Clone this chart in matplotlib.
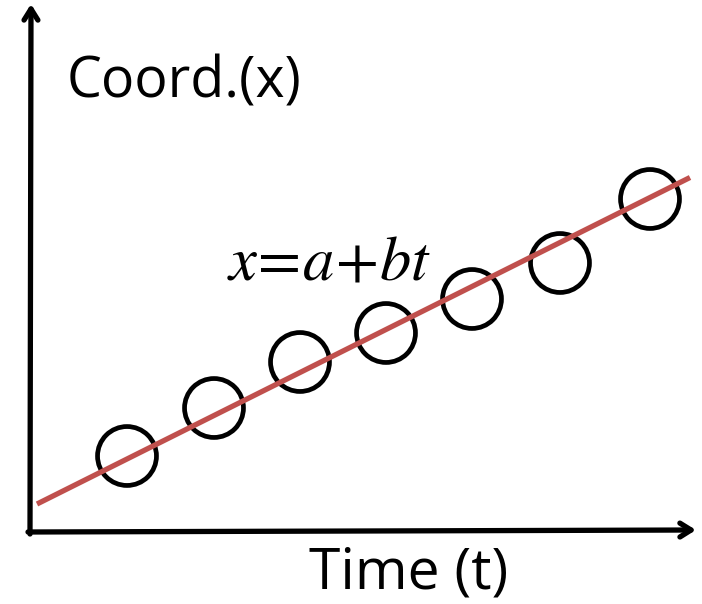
import matplotlib.pyplot as plt
import numpy as np

# measured positions (pixel-ish units from the axis origin)
t_pts = [97, 184, 270, 356, 442, 530, 620]
x_pts = [76, 124, 170, 199, 233, 269, 333]

# fitted line x = a + b t
a = 24.5
b = 0.5
t_line = np.array([7, 660])

red = '#C0504D'
plt.rcParams['mathtext.fontset'] = 'stix'

fig = plt.figure(figsize=(7.02, 6.04), dpi=100)
ax = fig.add_axes([0, 0, 1, 1])
ax.set_xlim(-30, 672)
ax.set_ylim(-72, 532)
ax.axis('off')

# axes with arrow heads
arrow = dict(arrowstyle='->,head_length=0.8,head_width=0.5', lw=3.8,
             color='black', shrinkA=0, shrinkB=0, capstyle='round')
ax.annotate('', xy=(666, 2), xytext=(-2, 0), arrowprops=arrow)
ax.annotate('', xy=(1, 528), xytext=(0, -2), arrowprops=arrow)

ax.plot(t_line, a + b * t_line, color=red, lw=3.8, solid_capstyle='butt', zorder=3)
ax.scatter(t_pts, x_pts, s=1800, facecolors='none', edgecolors='black',
           linewidths=3.4, zorder=2)

ax.text(37, 449, 'Coord.(x)', fontsize=40, family='Open Sans', va='center', ha='left')
ax.text(279, -42, 'Time (t)', fontsize=41, family='Open Sans', va='center', ha='left')
ax.text(197, 270, r'$x\!=\!a\!+\!bt$', fontsize=45, va='center', ha='left')

fig.savefig('out.png', dpi=100)
